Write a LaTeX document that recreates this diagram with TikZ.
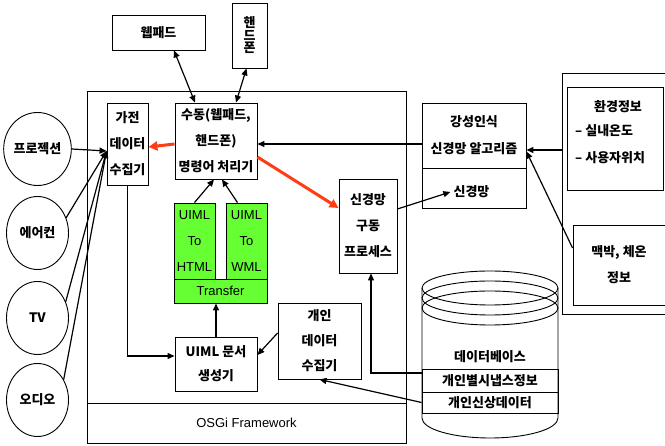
\documentclass[tikz,border=0pt]{standalone}
\usepackage{fontspec}
\setmainfont{Liberation Sans}
\newfontfamily\krfont{Noto Sans CJK KR}
\usetikzlibrary{calc, arrows.meta, shapes.geometric}
\definecolor{uiGreen}{HTML}{66FF33}
\definecolor{uiRed}{HTML}{FF3C14}

\tikzset{
    box/.style={draw, line width=0.9pt, inner sep=0pt, align=center,
        font=\krfont\bfseries\fontsize{13}{26}\selectfont},
    greenbox/.style={box, fill=uiGreen, font=\fontsize{13}{26}\selectfont},
    device/.style={draw, line width=0.9pt, ellipse, inner sep=0pt,
        minimum width=62pt, minimum height=73pt,
        font=\krfont\bfseries\fontsize{13}{15}\selectfont},
    txt/.style={inner sep=0pt, font=\krfont\bfseries\fontsize{13}{15}\selectfont},
    dbrow/.style={draw, line width=0.9pt, inner sep=0pt, minimum width=136pt,
        font=\krfont\bfseries\fontsize{13}{15}\selectfont},
    arr/.style={-{Triangle[length=7pt,width=6pt]}, line width=1.2pt},
    darr/.style={{Triangle[length=7pt,width=6pt]}-{Triangle[length=7pt,width=6pt]}, line width=1.2pt},
    redarr/.style={-{Triangle[length=9pt,width=9pt]}, line width=3pt, uiRed}
}

\begin{document}
\begin{tikzpicture}[x=1pt, y=-1pt]
    \useasboundingbox (0,0) rectangle (665,446);

    % OSGi frame
    \draw[line width=0.9pt] (87,91) rectangle (406,443);
    \draw[line width=0.9pt] (87,403) -- (406,403);
    \node[inner sep=0pt, font=\fontsize{13}{15}\selectfont] (osgi) at (246.5,423) {OSGi Framework};

    % input devices
    \node[box, minimum width=93pt, minimum height=35pt] (webpad) at (158.5,32.5) {웹패드};
    \node[box, minimum width=35pt, minimum height=65pt,
        font=\krfont\bfseries\fontsize{13}{12.5}\selectfont] (phone) at (249.5,35.5) {핸\\드\\폰};

    % appliances
    \node[device] (proj) at (37.5,149) {프로젝션};
    \node[device] (air) at (37.5,233) {에어컨};
    \node[device] (tv) at (37.5,318) {TV};
    \node[device] (audio) at (37.5,400) {오디오};

    % modules in the framework
    \node[box, minimum width=41pt, minimum height=82pt] (appl) at (127.5,144) {가전\\데이터\\수집기};
    \node[box, minimum width=82pt, minimum height=76pt] (manual) at (216,141) {수동(웹패드,\\핸드폰)\\명령어 처리기};
    \node[greenbox, minimum width=41pt, minimum height=76pt] (html) at (194.5,241) {UIML\\To\\HTML};
    \node[greenbox, minimum width=41pt, minimum height=76pt] (wml) at (246.5,241) {UIML\\To\\WML};
    \node[greenbox, minimum width=93pt, minimum height=24pt] (transfer) at (220.5,291) {Transfer};
    \node[box, minimum width=82pt, minimum height=54pt,
        font=\krfont\bfseries\fontsize{13}{24}\selectfont] (uiml) at (216,364) {UIML 문서\\생성기};
    \node[box, minimum width=83pt, minimum height=76pt,
        font=\krfont\bfseries\fontsize{13}{25}\selectfont] (personal) at (319.5,341) {개인\\데이터\\수집기};
    \node[box, minimum width=58pt, minimum height=94pt] (nndrive) at (368,226) {신경망\\구동\\프로세스};

    % recognition algorithm
    \node[box, minimum width=104pt, minimum height=65pt,
        font=\krfont\bfseries\fontsize{13}{27}\selectfont] (algotop) at (474,135.5) {강성인식\\신경망 알고리즘};
    \node[box, minimum width=104pt, minimum height=40pt] (algobot) at (474,188) {};
    \node[txt] (nnlabel) at (471.5,192) {신경망};

    % sensor information
    \node[draw, line width=0.9pt, minimum width=116pt, minimum height=241pt] (envpanel) at (620,193.5) {};
    \node[box, minimum width=96pt, minimum height=103pt] (env) at (615,138.5) {};
    \node[txt] (envhead) at (618,107) {환경정보};
    \node[txt, anchor=west] (envtemp) at (575,131) {– 실내온도};
    \node[txt, anchor=west] (envpos) at (575,158) {– 사용자위치};
    \node[box, minimum width=92pt, minimum height=80pt] (pulse) at (619,265) {맥박, 체온\\정보};

    % database
    \draw[line width=0.9pt] (422,288) -- (422,418)
        arc[start angle=180, end angle=360, x radius=68pt, y radius=20pt] -- (558,288);
    \foreach \cy in {288,298,308}
        \draw[line width=0.9pt] (490,\cy) ellipse[x radius=68pt, y radius=17pt];
    \node[txt] (db1) at (490,357) {데이터베이스};
    \node[dbrow, minimum height=23pt] (db2) at (490,380.5) {개인별시냅스정보};
    \node[dbrow, minimum height=21pt] (db3) at (490,402.5) {개인신상데이터};

    % connectors
    \draw[darr] ([xshift=15.5pt]webpad.south) -- ([xshift=-21pt]manual.north);
    \draw[darr] ([xshift=-3pt]phone.south) -- ([xshift=20pt]manual.north);
    \draw[redarr] ([yshift=-3pt]manual.west) -- ([yshift=-3pt]appl.east);
    \coordinate (hub) at ([yshift=-7pt]appl.west);
    \draw[arr] (proj.east) -- (hub);
    \draw[arr] (air.28) -- (hub);
    \draw[arr] (tv.30) -- (hub);
    \draw[arr] (audio.38) -- (hub);
    \draw[arr] (html.north) -- ([xshift=-2pt]manual.south);
    \draw[arr] ([xshift=-9pt]wml.north) -- ([xshift=6pt]manual.south);
    \draw[arr] (appl.south) |- ([yshift=8pt]uiml.west);
    \draw[arr] (uiml.north) -- ([xshift=-4.5pt]transfer.south);
    \draw[arr] ([yshift=8pt]personal.west) -- ([yshift=9pt]uiml.east);
    \draw[redarr] ([yshift=-16pt]manual.east) -- ([yshift=18pt]nndrive.west);
    \draw[arr] ([yshift=-8.5pt]algotop.west) -- ([yshift=-3pt]manual.east);
    \draw[arr] ([yshift=17pt]nndrive.east) -- ([xshift=-3pt]nnlabel.west);
    \draw[arr] ([yshift=43.5pt]envpanel.west) -- ([yshift=-14.5pt]algotop.east);
    \draw[arr] ([yshift=17pt]pulse.west) -- ([yshift=-16pt]algotop.east);
    \draw[arr] ([yshift=7.5pt]db2.west) -| ([xshift=3pt]nndrive.south);
    \draw[arr] (db3.west) -- (personal.south);
\end{tikzpicture}
\end{document}
